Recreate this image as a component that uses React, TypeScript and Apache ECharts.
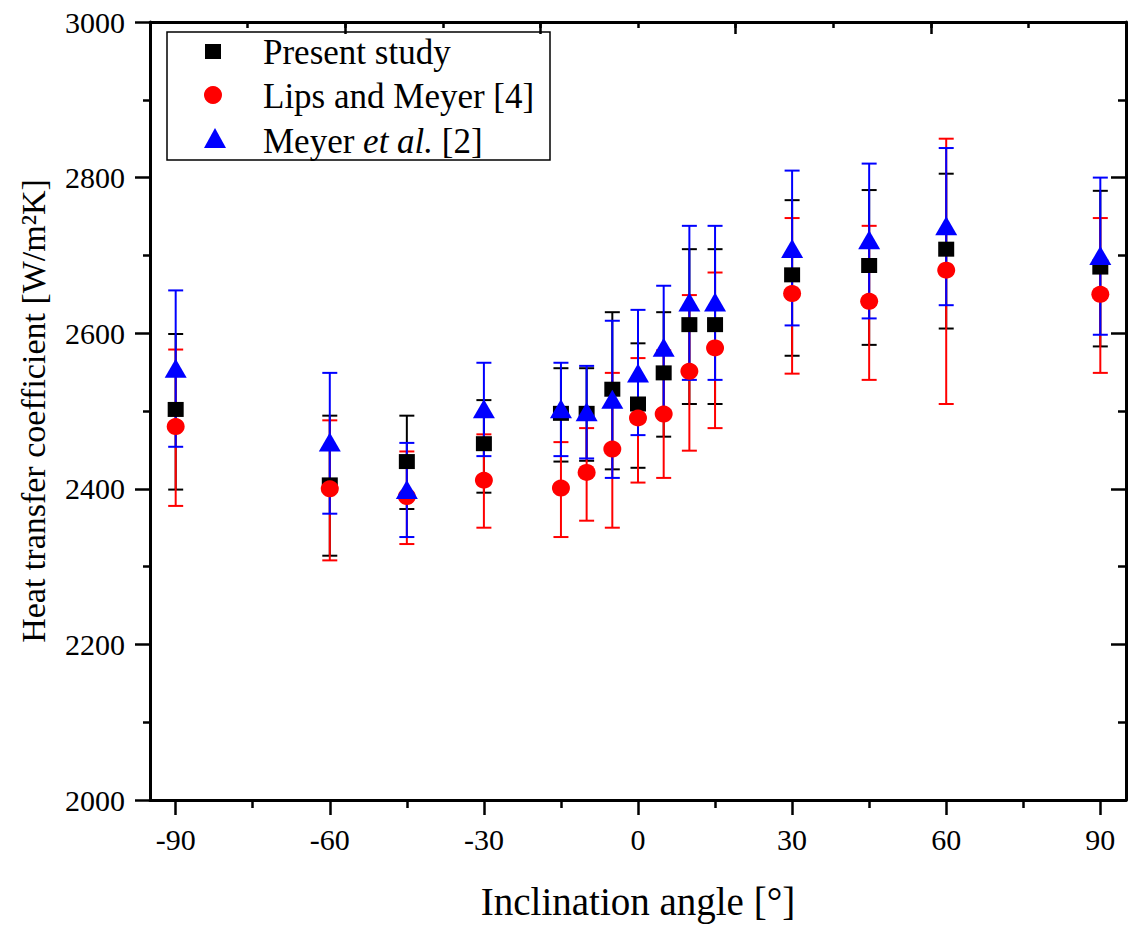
import React, { useEffect, useRef } from "react";
import * as echarts from "echarts";

const angles = [-90, -60, -45, -30, -15, -10, -5, 0, 5, 10, 15, 30, 45, 60, 90];

const presentVal = [2502, 2405, 2435, 2458, 2497, 2497, 2528, 2509, 2549, 2611, 2611, 2675, 2687, 2708, 2685];
const presentLow = [2399, 2314, 2374, 2395, 2435, 2436, 2425, 2427, 2467, 2509, 2509, 2571, 2585, 2606, 2583];
const presentHigh = [2599, 2494, 2494, 2514, 2555, 2555, 2627, 2587, 2627, 2708, 2708, 2771, 2784, 2805, 2783];

const lipsVal = [2480, 2400, 2390, 2411, 2401, 2421, 2451, 2491, 2496, 2551, 2581, 2651, 2641, 2681, 2650];
const lipsLow = [2378, 2308, 2329, 2350, 2338, 2359, 2350, 2408, 2414, 2449, 2478, 2548, 2540, 2509, 2549];
const lipsHigh = [2579, 2488, 2448, 2470, 2460, 2478, 2549, 2568, 2578, 2649, 2678, 2748, 2738, 2850, 2748];

const meyerVal = [2555, 2460, 2399, 2503, 2503, 2499, 2515, 2549, 2582, 2640, 2640, 2709, 2720, 2738, 2700];
const meyerLow = [2454, 2368, 2338, 2442, 2442, 2439, 2414, 2469, 2501, 2540, 2540, 2610, 2619, 2636, 2598];
const meyerHigh = [2655, 2549, 2459, 2562, 2562, 2558, 2616, 2630, 2661, 2738, 2738, 2809, 2818, 2838, 2800];

const xMajorTicks = [-90, -60, -30, 0, 30, 60, 90];
const xMinorTicks = [-75, -45, -15, 15, 45, 75];

const X_MIN = -95;
const X_MAX = 95;
const Y_MIN = 2000;
const Y_MAX = 3000;

const FONT = "Liberation Serif";

function errorSeries(name: string, color: string, low: number[], high: number[]) {
  return {
    name: name + " err",
    type: "custom",
    xAxisIndex: 0,
    yAxisIndex: 0,
    data: angles.map((a, i) => [a, low[i], high[i]]),
    encode: { x: 0, y: [1, 2] },
    renderItem: (params: any, api: any) => {
      const x = api.value(0);
      const lo = api.value(1);
      const hi = api.value(2);
      const p1 = api.coord([x, hi]);
      const p2 = api.coord([x, lo]);
      const w = 7.5;
      const st = { stroke: color, lineWidth: 2 };
      return {
        type: "group",
        children: [
          { type: "line", shape: { x1: p1[0], y1: p1[1], x2: p2[0], y2: p2[1] }, style: st },
          { type: "line", shape: { x1: p1[0] - w, y1: p1[1], x2: p1[0] + w, y2: p1[1] }, style: st },
          { type: "line", shape: { x1: p2[0] - w, y1: p2[1], x2: p2[0] + w, y2: p2[1] }, style: st },
        ],
      };
    },
    silent: true,
  };
}

function scatterSeries(name: string, color: string, vals: number[], symbol: string, size: any) {
  return {
    name,
    type: "scatter",
    xAxisIndex: 0,
    yAxisIndex: 0,
    symbol,
    symbolSize: size,
    itemStyle: { color, opacity: 1 },
    data: angles.map((a, i) => [a, vals[i]]),
  };
}

export default function App() {
  const ref = useRef<HTMLDivElement>(null);
  useEffect(() => {
    if (!ref.current) return;
    const chart = echarts.init(ref.current, null, { renderer: "svg" });
    const axisLineStyle = { color: "#000", width: 3 };
    const tickStyle = { color: "#000", width: 2.5 };
    const labelStyle = { fontFamily: FONT, fontSize: 30, color: "#000" };
    const plain = (v: number) => String(v);
    const option: any = {
      animation: false,
      backgroundColor: "#fff",
      grid: { left: 150, top: 22, right: 2, bottom: 129 },
      xAxis: [
        {
          type: "value",
          position: "bottom",
          min: X_MIN,
          max: X_MAX,
          axisLine: { show: true, onZero: false, lineStyle: axisLineStyle },
          axisTick: { show: true, customValues: xMajorTicks, length: 15, lineStyle: tickStyle },
          axisLabel: { show: true, customValues: xMajorTicks, margin: 24, formatter: plain, ...labelStyle },
          splitLine: { show: false },
          name: "Inclination angle [°]",
          nameLocation: "middle",
          nameGap: 82,
          nameTextStyle: { fontFamily: FONT, fontSize: 39, color: "#000" },
        },
        {
          type: "value",
          position: "bottom",
          min: X_MIN,
          max: X_MAX,
          axisLine: { show: false, onZero: false },
          axisTick: { show: true, customValues: xMinorTicks, length: 8, lineStyle: tickStyle },
          axisLabel: { show: false },
          splitLine: { show: false },
        },
        {
          type: "value",
          position: "top",
          min: X_MIN,
          max: X_MAX,
          interval: 38,
          axisLine: { show: true, onZero: false, lineStyle: axisLineStyle },
          axisTick: { show: true, inside: true, length: 12, lineStyle: tickStyle },
          axisLabel: { show: false },
          splitLine: { show: false },
        },
        {
          type: "value",
          position: "top",
          min: X_MIN,
          max: X_MAX,
          interval: 19,
          axisLine: { show: false, onZero: false },
          axisTick: { show: true, inside: true, length: 6, lineStyle: tickStyle },
          axisLabel: { show: false },
          splitLine: { show: false },
        },
      ],
      yAxis: [
        {
          type: "value",
          position: "left",
          min: Y_MIN,
          max: Y_MAX,
          interval: 200,
          axisLine: { show: true, onZero: false, lineStyle: axisLineStyle },
          axisTick: { show: true, length: 15, lineStyle: tickStyle },
          minorTick: { show: true, splitNumber: 2, length: 7, lineStyle: tickStyle },
          axisLabel: { show: true, margin: 25, formatter: plain, ...labelStyle },
          splitLine: { show: false },
          name: "Heat transfer coefficient [W/m²K]",
          nameLocation: "middle",
          nameGap: 100,
          nameTextStyle: { fontFamily: FONT, fontSize: 34, color: "#000" },
        },
        {
          type: "value",
          position: "right",
          min: Y_MIN,
          max: Y_MAX,
          interval: 200,
          axisLine: { show: true, onZero: false, lineStyle: axisLineStyle },
          axisTick: { show: true, inside: true, length: 15, lineStyle: tickStyle },
          minorTick: { show: true, splitNumber: 2, length: 8, lineStyle: tickStyle },
          axisLabel: { show: false },
          splitLine: { show: false },
        },
      ],
      series: [
        errorSeries("Present study", "#000000", presentLow, presentHigh),
        scatterSeries("Present study", "#000000", presentVal, "rect", [16, 15]),
        errorSeries("Lips and Meyer [4]", "#ff0000", lipsLow, lipsHigh),
        scatterSeries("Lips and Meyer [4]", "#ff0000", lipsVal, "circle", [18, 17]),
        errorSeries("Meyer et al. [2]", "#0000ff", meyerLow, meyerHigh),
        scatterSeries("Meyer et al. [2]", "#0000ff", meyerVal, "triangle", [22, 19]),
      ],
      graphic: [
        {
          type: "group",
          z: 100,
          children: [
            {
              type: "rect",
              shape: { x: 167, y: 32, width: 383, height: 128 },
              style: { fill: "#fff", stroke: "#000", lineWidth: 1.5 },
            },
            {
              type: "rect",
              shape: { x: 205, y: 44, width: 16, height: 15 },
              style: { fill: "#000" },
            },
            {
              type: "circle",
              shape: { cx: 213, cy: 95, r: 9 },
              style: { fill: "#ff0000" },
            },
            {
              type: "polygon",
              shape: { points: [[215, 128], [204, 148], [226, 148]] },
              style: { fill: "#0000ff" },
            },
            {
              type: "text",
              x: 263,
              y: 52,
              style: { text: "Present study", fontFamily: FONT, fontSize: 35, fill: "#000", verticalAlign: "middle" },
            },
            {
              type: "text",
              x: 263,
              y: 96,
              style: { text: "Lips and Meyer [4]", fontFamily: FONT, fontSize: 35, fill: "#000", verticalAlign: "middle" },
            },
            {
              type: "text",
              x: 263,
              y: 141,
              style: {
                text: "Meyer {i|et al.} [2]",
                fontFamily: FONT,
                fontSize: 35,
                fill: "#000",
                verticalAlign: "middle",
                rich: { i: { fontFamily: FONT, fontSize: 35, fontStyle: "italic", fill: "#000" } },
              },
            },
          ],
        },
      ],
    };
    chart.setOption(option);
    return () => chart.dispose();
  }, []);
  return (
    <div
      ref={ref}
      style={{ position: "fixed", left: 0, top: 0, width: 1128, height: 929, background: "#fff" }}
    />
  );
}
